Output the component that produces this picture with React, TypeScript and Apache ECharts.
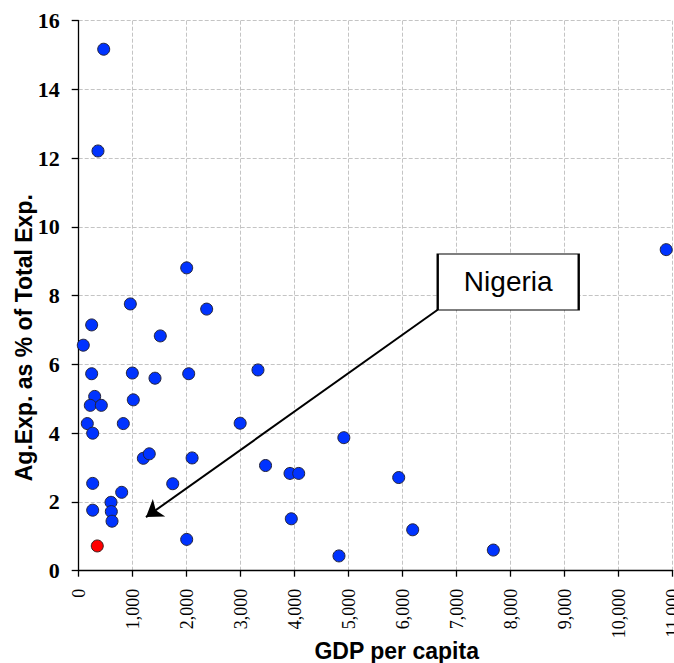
import React, { useEffect, useRef } from "react";
import * as echarts from "echarts";

// GDP per capita (x) and agricultural expenditure share (y)
const gdpPerCapita = [
  463, 357, 10880, 2000, 956, 2370, 240, 85, 1511, 240, 993, 1413, 2037, 3320,
  296, 215, 419, 1011, 159, 826, 259, 2990, 4910, 1197, 1307, 2100, 3460, 3913,
  4074, 5926, 259, 1741, 796, 598, 259, 604, 617, 2000, 3937, 6185, 4820, 7678,
];
const agExpShare = [
  15.17, 12.21, 9.34, 8.81, 7.76, 7.61, 7.15, 6.56, 6.83, 5.73, 5.75, 5.6, 5.73,
  5.84, 5.07, 4.81, 4.81, 4.97, 4.28, 4.28, 4.0, 4.29, 3.87, 3.27, 3.4, 3.28,
  3.06, 2.83, 2.83, 2.71, 2.54, 2.53, 2.28, 1.99, 1.76, 1.72, 1.44, 0.91, 1.51,
  1.19, 0.43, 0.6,
];
const nigeriaPoint = [344, 0.72];
const calloutLabel = "Nigeria";
const calloutCenter = [7954, 8.4];
const arrowFrom = [6648, 7.59];
const arrowTo = [1246, 1.56];

const xAxisName = "GDP per capita";
const yAxisName = "Ag.Exp. as % of Total Exp.";

export default function App() {
  const ref = useRef<HTMLDivElement>(null);
  useEffect(() => {
    if (!ref.current) return;
    const chart = echarts.init(ref.current, null, { renderer: "svg" });
    const points = gdpPerCapita.map((x, i) => [x, agExpShare[i]]);
    chart.setOption({
      animation: false,
      backgroundColor: "#ffffff",
      grid: {
        left: 78.7,
        top: 20.7,
        width: 594,
        height: 550,
        containLabel: false,
        outerBoundsMode: "none",
      },
      xAxis: {
        type: "value",
        min: 0,
        max: 11000,
        interval: 1000,
        name: xAxisName,
        nameLocation: "middle",
        nameGap: 69,
        nameMoveOverlap: false,
        nameTextStyle: {
          fontFamily: "Liberation Sans, Arial, sans-serif",
          fontWeight: "bold",
          fontSize: 23,
          color: "#000",
          padding: [0, 0, 0, 42],
        },
        axisLine: { show: true, onZero: false, lineStyle: { color: "#000", width: 1.3 } },
        axisTick: { show: true, length: 6, lineStyle: { color: "#000", width: 1.3 } },
        axisLabel: {
          rotate: 90,
          margin: 18,
          fontFamily: "Liberation Serif, Times New Roman, serif",
          fontSize: 18,
          color: "#000",
          formatter: (v: number) => v.toLocaleString("en-US"),
        },
        splitLine: { show: true, lineStyle: { color: "#c4c4c4", type: "dashed", width: 1 } },
      },
      yAxis: {
        type: "value",
        min: 0,
        max: 16,
        interval: 2,
        name: yAxisName,
        nameLocation: "middle",
        nameGap: 43,
        nameMoveOverlap: false,
        nameTextStyle: {
          fontFamily: "Liberation Sans, Arial, sans-serif",
          fontWeight: "bold",
          fontSize: 23,
          color: "#000",
          padding: [0, 84, 0, 0],
        },
        axisLine: { show: true, onZero: false, lineStyle: { color: "#000", width: 1.3 } },
        axisTick: { show: true, length: 7, lineStyle: { color: "#000", width: 1.3 } },
        axisLabel: {
          margin: 19,
          fontFamily: "Liberation Serif, Times New Roman, serif",
          fontWeight: "bold",
          fontSize: 22,
          color: "#000",
        },
        splitLine: { show: true, lineStyle: { color: "#c4c4c4", type: "dashed", width: 1 } },
      },
      series: [
        {
          type: "scatter",
          data: points,
          symbol: "circle",
          symbolSize: 12,
          itemStyle: { color: "#0033ff", borderColor: "#22223a", borderWidth: 1, opacity: 1 },
          z: 3,
        },
        {
          type: "scatter",
          data: [nigeriaPoint],
          symbol: "circle",
          symbolSize: 12,
          itemStyle: { color: "#ff0000", borderColor: "#3a2222", borderWidth: 1, opacity: 1 },
          z: 3,
          markLine: {
            silent: true,
            symbol: ["none", "arrow"],
            symbolSize: 16,
            label: { show: false },
            lineStyle: { color: "#000", width: 2, type: "solid", opacity: 1 },
            data: [[{ coord: arrowFrom }, { coord: arrowTo }]],
          },
          markPoint: {
            silent: true,
            symbol: "rect",
            symbolSize: [141, 56],
            itemStyle: { color: "#ffffff", borderColor: "#000", borderWidth: 1.5, opacity: 1 },
            label: {
              show: true,
              position: "inside",
              formatter: calloutLabel,
              fontFamily: "Liberation Sans, Arial, sans-serif",
              fontSize: 28,
              color: "#000",
            },
            data: [{ coord: calloutCenter }],
          },
        },
      ],
    });
    return () => chart.dispose();
  }, []);
  return (
    <div
      ref={ref}
      style={{ position: "absolute", left: 0, top: 0, width: 674, height: 663 }}
    />
  );
}
